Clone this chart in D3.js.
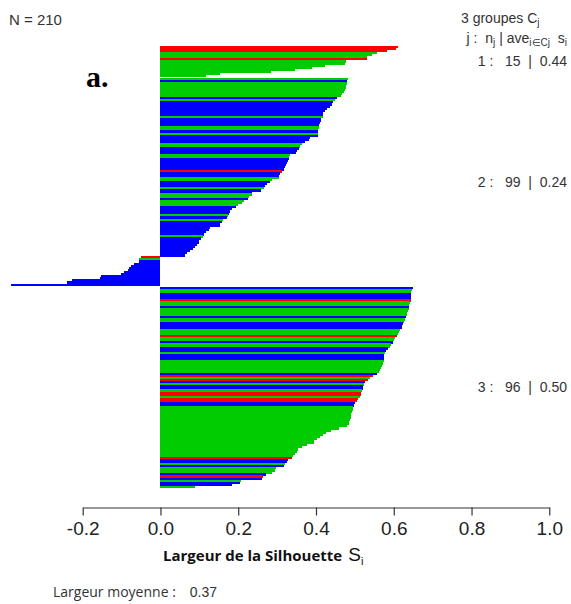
<!DOCTYPE html>
<html><head><meta charset="utf-8">
<script src="https://cdn.jsdelivr.net/npm/d3@7"></script>
<style>
html,body{margin:0;padding:0;background:#fff;}
svg{display:block;}
</style></head>
<body>
<svg id="chart" width="571" height="604"></svg>
<script>
// ---------- data ----------
const clusterSizes = [15, 99, 96];
const clusterAvg = ["0.44", "0.24", "0.50"];
const nTotal = 210;
const meanWidth = "0.37";
const tickValues = [-0.2, 0.0, 0.2, 0.4, 0.6, 0.8, 1.0];

const sil1 = [0.610,0.605,0.582,0.556,0.544,0.532,0.532,0.477,0.475,0.422,0.390,0.347,0.285,0.152,0.116];
const col1 = "rrrgggrgggggggg".split("");

const sil2 = [0.482,0.479,0.479,0.4775,0.476,0.474,0.471,0.468,0.464,0.455,
  0.449,0.443,0.441,0.436,0.428,0.424,0.419,0.417,0.417,0.413,
  0.4125,0.411,0.407,0.407,0.406,0.405,0.405,0.404,0.385,0.383,
  0.372,0.364,0.359,0.355,0.351,0.348,0.332,0.330,0.330,0.327,
  0.325,0.323,0.321,0.317,0.312,0.308,0.306,0.304,0.288,0.282,
  0.274,0.270,0.265,0.259,0.235,0.235,0.227,0.224,0.214,0.210,
  0.199,0.193,0.184,0.180,0.175,0.173,0.171,0.161,0.158,0.154,
  0.152,0.128,0.124,0.116,0.111,0.109,0.103,0.100,0.098,0.094,
  0.090,0.084,0.077,0.069,0.064,
  -0.049,-0.056,-0.056,-0.068,-0.077,-0.081,-0.083,-0.094,-0.101,-0.154,
  -0.156,-0.228,-0.241,-0.384];
const col2 = ("gbgggggggb" + "gbbbbbbbgb" + "bbbggbgbbb" +
              "bggbbbggbb" + "bbbbrbbggb" + "bbgbbggbgg" +
              "gbbbbgbgbb" + "bbbbbgbbbb" + "bbbbb" +
              "rgbbbbbbbb" + "bbbb").split("");

const sil3 = [0.650,0.646,0.644,0.644,0.644,0.644,0.644,0.642,0.640,0.638,
  0.638,0.636,0.634,0.633,0.632,0.629,0.626,0.623,0.622,0.620,
  0.616,0.613,0.610,0.608,0.603,0.600,0.597,0.594,0.591,0.586,
  0.580,0.578,0.576,0.576,0.575,0.574,0.573,0.571,0.568,0.565,
  0.563,0.556,0.546,0.539,0.535,
  0.526,0.523,0.522,0.520,0.519,0.516,0.515,0.512,0.509,0.505,
  0.501,0.498,0.496,0.495,0.493,0.491,0.490,0.489,0.488,0.486,
  0.484,0.479,0.458,0.439,0.426,0.419,0.411,0.402,0.395,0.394,
  0.377,0.364,0.353,0.351,0.345,0.341,0.338,0.327,0.325,0.321,
  0.317,0.298,0.295,0.287,0.272,0.263,0.261,0.207,0.205,0.185,0.090];
const col3 = ("bggbbbrggb" + "ggggbggbbb" + "gggrggbggb" + "bgbbbggggg" + "gbrgr" +
              "bgbbgrrgrr" + "bbgggggggg" + "gggggggggg" + "gggggg" + "rbbgbgggbr" + "bgbbg").split("");

const palette = { r: "#FF0000", g: "#00CC00", b: "#0000FF" };

// ---------- build rows ----------
const sils = [sil1, sil2, sil3];
const cols = [col1, col2, col3];
const gap = 0.5;
const rows = [];
let slot = 0;
const clusterRanges = [];
sils.forEach((arr, c) => {
  if (c > 0) slot += gap;
  const start = slot;
  arr.forEach((v, i) => {
    rows.push({ cluster: c, value: v, color: palette[cols[c][i]], slot: slot });
    slot += 1;
  });
  clusterRanges.push([start, slot]);
});
const totalSlots = slot;

// ---------- scales ----------
const svg = d3.select("#chart");
const x = d3.scaleLinear().domain([-0.2, 1.0]).range([82.7, 549.3]);
const y = d3.scaleLinear().domain([0, totalSlots]).range([45.5, 488]);

// ---------- bars ----------
svg.append("g").attr("shape-rendering", "crispEdges")
  .selectAll("rect").data(rows).join("rect")
  .attr("x", d => Math.min(x(0), x(d.value)))
  .attr("y", d => y(d.slot))
  .attr("width", d => Math.abs(x(d.value) - x(0)))
  .attr("height", d => y(d.slot + 1) - y(d.slot) + 0.3)
  .attr("fill", d => d.color);

// ---------- axis ----------
const axis = d3.axisBottom(x).tickValues(tickValues).tickSizeInner(8).tickSizeOuter(0)
  .tickPadding(6).tickFormat(d => d.toFixed(1));
const ax = svg.append("g").attr("transform", "translate(0,507.5)").call(axis);
ax.select(".domain").attr("stroke", "#333").attr("stroke-width", 1.2);
ax.selectAll(".tick line").attr("stroke", "#333").attr("stroke-width", 1.2);
ax.selectAll(".tick text").attr("font-family", "Liberation Sans, Arial, sans-serif")
  .attr("font-size", 19).attr("fill", "#222");

// ---------- texts ----------
const sans = "Liberation Sans, Arial, sans-serif";
svg.append("text").attr("x", 9).attr("y", 25).attr("font-family", sans).attr("font-size", 15)
  .attr("fill", "#333").text("N = " + nTotal);

svg.append("text").attr("x", 86).attr("y", 87).attr("font-family", "Liberation Serif, Times New Roman, serif")
  .attr("font-weight", "bold").attr("font-size", 30).attr("fill", "#000").text("a.");

// header right
const h1 = svg.append("text").attr("x", 461).attr("y", 23).attr("font-family", sans).attr("font-size", 14).attr("fill", "#333");
h1.append("tspan").text(clusterSizes.length + " groupes C");
h1.append("tspan").attr("dy", 3).attr("font-size", 10).text("j");

const h2 = svg.append("text").attr("x", 567).attr("y", 43).attr("text-anchor", "end")
  .attr("font-family", sans).attr("font-size", 14).attr("fill", "#333")
  .attr("xml:space", "preserve").style("white-space", "pre");
h2.append("tspan").text("j :  n");
h2.append("tspan").attr("dy", 3).attr("font-size", 10).text("j");
h2.append("tspan").attr("dy", -3).text(" | ave");
h2.append("tspan").attr("dy", 3).attr("font-size", 10).text("i\u2208Cj");
h2.append("tspan").attr("dy", -3).text("  s");
h2.append("tspan").attr("dy", 3).attr("font-size", 10).text("i");

clusterRanges.forEach((r, c) => {
  const cy = y((r[0] + r[1]) / 2);
  svg.append("text").attr("x", 567).attr("y", cy + 5).attr("text-anchor", "end")
    .attr("font-family", sans).attr("font-size", 14).attr("fill", "#333")
    .attr("xml:space", "preserve").style("white-space", "pre")
    .text((c + 1) + " :   " + clusterSizes[c] + "  |  " + clusterAvg[c]);
});

// axis title
const t = svg.append("text").attr("x", 163).attr("y", 561).attr("fill", "#111");
t.append("tspan").attr("font-family", "Open Sans, sans-serif").attr("font-weight", "bold")
  .attr("font-size", 15).text("Largeur de la Silhouette");
t.append("tspan").attr("font-family", sans).attr("font-size", 19).attr("dx", 6).text("S");
t.append("tspan").attr("font-family", sans).attr("font-size", 11).attr("dy", 4).text("i");

// mean width
const m = svg.append("text").attr("x", 53).attr("y", 597).attr("fill", "#333");
m.append("tspan").attr("font-family", "Open Sans, sans-serif").attr("font-size", 14).text("Largeur moyenne :");
m.append("tspan").attr("font-family", sans).attr("font-size", 14).attr("dx", 14).text(meanWidth);
</script>
</body></html>
